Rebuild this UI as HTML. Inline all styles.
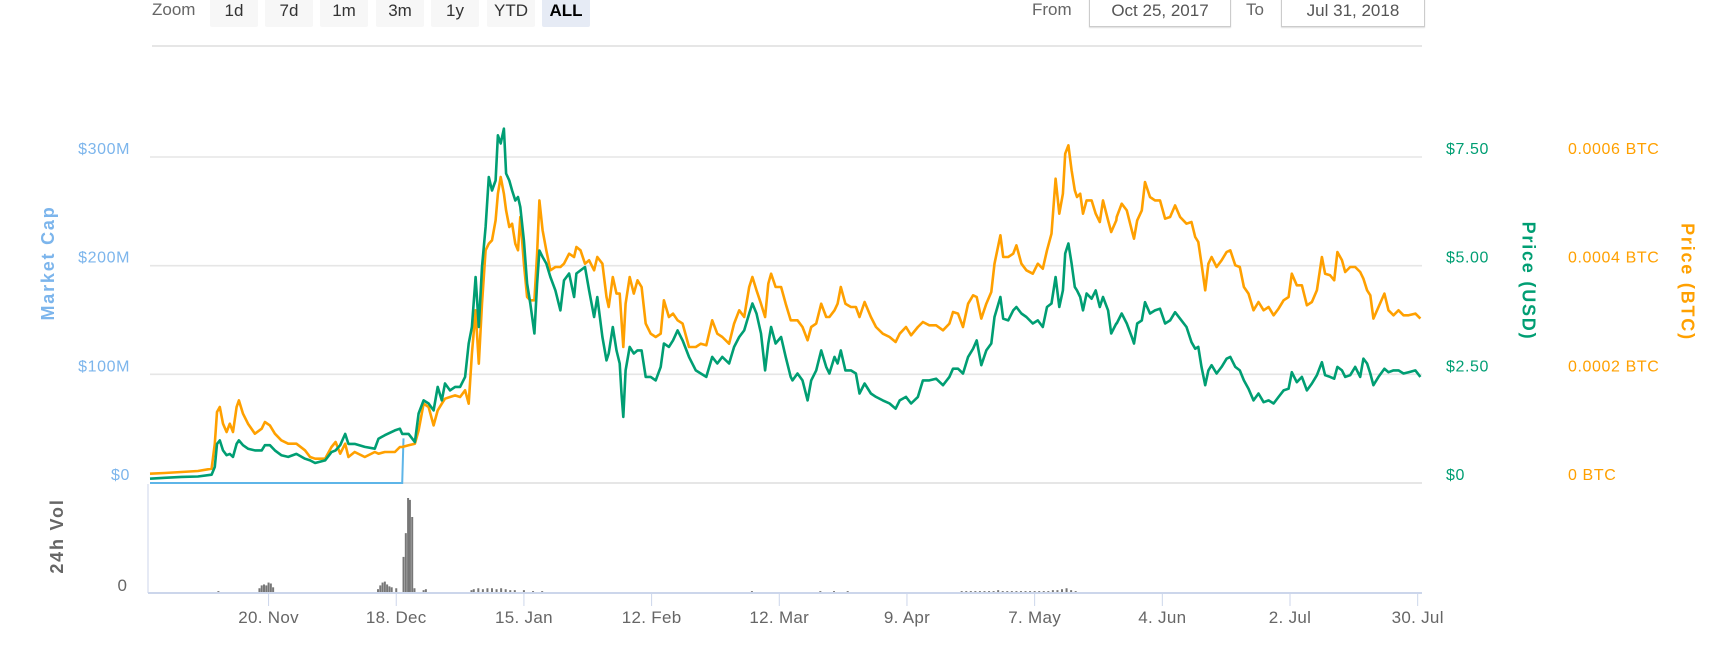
<!DOCTYPE html>
<html><head><meta charset="utf-8">
<style>
html,body{margin:0;padding:0;background:#fff;}
body{width:1713px;height:666px;position:relative;overflow:hidden;font-family:"Liberation Sans",sans-serif;}
.btn{position:absolute;top:-4px;height:31px;width:48px;background:#f7f7f7;border-radius:2px;color:#333;font-size:17px;text-align:center;line-height:30px;}
.btn.sel{background:#e6ebf5;font-weight:bold;color:#000;}
.lbl{position:absolute;color:#666;font-size:17px;}
.dbox{position:absolute;top:-4px;height:30px;border:1px solid #ccc;border-top:none;background:#fff;color:#555;font-size:17px;line-height:30px;text-align:center;box-shadow:0 1px 1px #ddd;}
svg{position:absolute;left:0;top:0;}
</style></head>
<body>
<div class="lbl" style="left:152px;top:0px;">Zoom</div>
<div class="btn" style="left:210px;">1d</div>
<div class="btn" style="left:265px;">7d</div>
<div class="btn" style="left:320px;">1m</div>
<div class="btn" style="left:376px;">3m</div>
<div class="btn" style="left:431px;">1y</div>
<div class="btn" style="left:487px;">YTD</div>
<div class="btn sel" style="left:542px;">ALL</div>
<div class="lbl" style="left:1032px;top:0px;">From</div>
<div class="dbox" style="left:1089px;width:140px;">Oct 25, 2017</div>
<div class="lbl" style="left:1246px;top:0px;">To</div>
<div class="dbox" style="left:1281px;width:142px;">Jul 31, 2018</div>

<svg id="chart" width="1713" height="666" xmlns="http://www.w3.org/2000/svg"></svg>

<script>
// ---- data ----
const usdDays=[0,3.2,6.9,10.5,13.5,14.2,14.7,15.3,16,16.8,17.5,18.2,19,19.5,20.4,21.5,23,24.5,25.2,26.3,27.4,28.8,30.3,32.1,34,35.1,36.2,38.4,39.8,40.7,41.7,42.8,43.5,44.9,47.1,49.3,50.1,51.5,53.7,54.8,55.3,56.7,58.1,58.9,60,61.1,62.2,63.1,64,64.7,65.8,66.9,68,69.1,
69.9,70.6,71.4,72.1,72.8,73.6,74.3,75,75.8,76.3,76.9,77.6,78.1,78.8,79.4,80.1,80.7,81.2,82,82.7,83.4,84.3,84.9,85.4,86.1,86.9,87.8,88.9,90,90.8,91.9,93,93.5,94.4,95.4,96.3,97.4,98.1,99.2,100.1,100.6,101.5,102.3,103,103.4,103.8,104.3,105.2,106.1,106.9,107.8,108.7,109.8,110.9,112,112.7,113.8,114.7,115.7,116.8,118.2,119.7,120.8,122,123.3,124.4,125.5,127,128.1,129.2,130.3,131.4,132.1,133,134,134.9,135.6,136.2,137.2,138.4,139.4,140.5,
140.9,142,143.1,144.2,145,146.1,147.2,148.3,149,150.1,150.8,151.5,152.5,153.7,154.8,155.6,156.7,158.1,159.2,160.7,162.2,163.5,164.4,165.8,166.9,168.4,169.5,170.9,172.4,173.9,175.3,176.1,177.2,178.3,179.4,180.5,181.3,182.3,183.4,184.5,185.2,186.5,187.1,188.2,189.3,190,191.1,192.2,193.6,194.7,195.8,196.7,197.7,198.6,199.4,200.2,200.7,201.4,202.1,202.8,203.3,204,204.6,205.4,206.5,207.4,208.3,209,210.1,210.8,211.9,
212,213.1,214.2,215.3,215.8,216.5,217.5,218.2,219.3,220.4,221.5,222.6,223.7,224.8,225.9,227.3,228.4,229.2,229.9,230.6,231.4,232.1,232.8,233.9,235,236.1,236.9,238,239,239.9,240.9,242,243.1,244.2,245.3,246.4,247.5,248.6,249.7,250.4,251.5,252.6,253.7,254.8,255.9,257,257.7,258.8,259.7,260.4,261.4,262.1,263.2,264.3,265.4,266.1,266.9,267.6,268.3,269.4,270.7,271.6,272.7,273.8,274.9,276,277.5,278.6];
const priceUSD=[0.10,0.12,0.14,0.15,0.19,0.37,0.90,0.98,0.75,0.64,0.67,0.60,0.90,0.98,0.87,0.79,0.75,0.75,0.87,0.87,0.75,0.64,0.60,0.67,0.56,0.52,0.46,0.52,0.71,0.75,0.87,1.13,0.90,0.90,0.83,0.79,1.02,1.10,1.21,1.25,1.13,1.13,0.94,1.60,1.90,1.83,1.67,2.21,1.90,2.29,2.13,2.21,2.21,2.44,
3.21,3.59,4.74,3.59,4.97,5.89,7.04,6.73,6.96,8.00,7.81,8.15,7.12,6.96,6.73,6.50,6.58,6.35,5.58,4.59,4.13,3.44,4.59,5.35,5.20,5.05,4.74,4.43,3.97,4.66,4.82,4.28,4.82,4.89,4.97,4.43,3.82,4.28,3.36,2.82,2.98,3.59,3.05,2.75,2.06,1.52,2.59,3.13,2.98,3.05,3.05,2.44,2.44,2.36,2.67,3.21,3.13,3.28,3.51,3.28,2.90,2.59,2.52,2.44,2.90,2.75,2.90,2.75,3.13,3.36,3.51,3.90,4.13,3.90,3.44,2.59,3.21,3.59,3.21,3.36,2.90,2.44,
2.36,2.52,2.36,1.90,2.36,2.59,3.05,2.67,2.52,2.90,2.75,3.05,2.59,2.59,2.52,2.06,2.29,2.06,1.98,1.90,1.83,1.71,1.90,1.98,1.83,1.98,2.36,2.36,2.40,2.25,2.44,2.63,2.63,2.52,2.90,3.09,3.28,2.71,3.05,3.21,3.82,4.28,3.78,3.74,3.97,4.05,3.90,3.82,3.67,3.74,3.59,4.05,4.13,4.74,4.05,4.43,5.28,5.51,5.05,4.51,4.43,4.28,3.97,4.36,4.24,4.43,4.05,4.28,3.97,3.44,3.67,
3.67,3.90,3.67,3.36,3.21,3.67,3.74,4.16,3.90,3.97,4.01,3.67,3.74,3.93,3.78,3.59,3.24,3.09,3.13,2.67,2.25,2.59,2.71,2.52,2.67,2.86,2.90,2.67,2.59,2.36,2.17,1.90,2.06,1.86,1.90,1.83,1.98,2.13,2.17,2.55,2.32,2.44,2.13,2.29,2.48,2.78,2.48,2.44,2.40,2.67,2.59,2.44,2.48,2.67,2.44,2.86,2.75,2.52,2.25,2.44,2.63,2.55,2.59,2.59,2.52,2.55,2.59,2.44];
// BTC price in micro-BTC (1e-6 BTC)
const priceMicroBTC=[17.2,18.4,20.2,22.1,26.4,72.4,130.7,139.9,109.2,93.9,109.2,93.9,139.9,152.1,127.6,109.2,90.8,100,112.3,106.1,90.8,78.5,72.4,72.4,60.1,47.9,44.8,44.8,66.3,75.5,54,72.4,47.9,57.1,47.9,57.1,54,57.1,57.1,66.3,66.3,69.3,72.4,96.9,146,139.9,106.1,133.7,146,155.2,158.3,161.3,158.3,170.6,
146,238,317.8,219.6,330,428.2,440.5,446.6,483.4,532.5,563.2,532.5,501.8,471.2,477.3,440.5,428.2,489.6,403.7,342.3,336.2,336.2,422.1,520.2,465,428.2,391.4,397.5,397.5,403.7,422.1,416,434.4,428.2,403.7,409.8,391.4,416,403.7,342.3,323.9,379.1,348.5,348.5,299.4,250.3,330,379.1,348.5,373,360.7,293.3,274.8,268.7,274.8,336.2,305.5,311.7,299.4,293.3,250.3,250.3,256.4,253.4,299.4,274.8,268.7,256.4,293.3,317.8,305.5,360.7,379.1,354.6,330,305.5,366.8,385.3,360.7,360.7,330,299.4,
299.4,299.4,287.1,262.6,287.1,293.3,330,305.5,305.5,317.8,330,360.7,330,323.9,323.9,305.5,333.1,305.5,287.1,274.8,268.7,259.5,274.8,287.1,271.8,287.1,296.3,290.2,290.2,281,293.3,314.7,311.7,287.1,330,345.4,342.3,302.5,330,351.5,403.7,455.8,416,416,422.1,437.4,403.7,391.4,385.3,403.7,394.5,428.2,458.9,560.1,495.7,532.5,606.1,621.5,575.5,538.7,526.4,532.5,495.7,520.2,520.2,495.7,480.4,520.2,483.4,462,483.4,
489.6,514.1,501.8,465,449.7,483.4,501.8,554,526.4,520.2,520.2,486.5,489.6,511,489.6,477.3,480.4,452.8,443.6,403.7,354.6,403.7,416,397.5,409.8,425.2,428.2,400.6,397.5,360.7,348.5,317.8,333.1,317.8,323.9,308.6,320.9,336.2,342.3,385.3,363.8,363.8,327,333.1,354.6,416,385.3,382.2,373,425.2,409.8,388.3,397.5,397.5,388.3,376.1,354.6,345.4,302.5,323.9,348.5,317.8,308.6,317.8,308.6,308.6,311.7,302.5];
const mcapDays=[0,55.3,55.6];
const marketCapM=[0,0,41];
const volDays=[15,24,24.5,25,25.5,26,26.5,27,50,50.5,51,51.5,52,52.5,53,54,55.6,56.1,56.6,57,57.5,58,60,60.5,70.5,71,72,73,74,75,76,77,78,79,80,82,84,86,132,147,150,153,
177,178,179,180,181,182,183,184,185,186,187,188,189,190,191,192,193,194,195,196,197,198,199,200,201,202,203];
const volume=[2,5,8,9,8,11,10,6,4,8,11,12,9,7,6,5,38,63,100,98,80,5,3,4,3,4,5,4,5,5,4,5,4,3,3,3,2,2,2,2,2,2,
1,2,2,2,2,2,2,2,2,3,2,2,2,2,2,2,2,2,2,2,2,3,3,4,5,3,2];
const xTickDays=[26,54,82,110,138,166,194,222,250,278];
const xTickLabels=["20. Nov","18. Dec","15. Jan","12. Feb","12. Mar","9. Apr","7. May","4. Jun","2. Jul","30. Jul"];
const mcapTicks=[0,100,200,300];
const mcapTickLabels=["$0","$100M","$200M","$300M"];
const usdTicks=[0,2.5,5,7.5];
const usdTickLabels=["$0","$2.50","$5.00","$7.50"];
const btcTicks=[0,200,400,600];
const btcTickLabels=["0 BTC","0.0002 BTC","0.0004 BTC","0.0006 BTC"];

// ---- scales ----
const X0=150, DX=4.56, PL=150, PR=1422;
const Y0=483, YTOP=157;
const xs=d=>X0+d*DX;
const yUSD=v=>Y0-(Y0-YTOP)*v/7.5;
const yBTC=v=>Y0-(Y0-YTOP)*v/600;
const yMC=v=>Y0-(Y0-YTOP)*v/300;
const VB=593;
const yVol=v=>VB-v*0.95;

const NS="http://www.w3.org/2000/svg";
const svg=document.getElementById('chart');
function mk(tag,attrs,parent){const e=document.createElementNS(NS,tag);for(const k in attrs)e.setAttribute(k,attrs[k]);(parent||svg).appendChild(e);return e;}

let e=mk('line',{x1:152,x2:1422,y1:46,y2:46,stroke:'#e6e6e6','stroke-width':2});



mcapTicks.forEach((t,i)=>{
  const y=yMC(t);
  const g=mk('line',{x1:PL,x2:PR,y1:y,y2:y,stroke:'#e6e6e6','stroke-width':i===0?2:1.6});
  
  
  const l=mk('text',{x:130,y:y-3,'text-anchor':'end',fill:'#7cb5ec','font-size':16,'letter-spacing':0.6});
  l.textContent=mcapTickLabels[i];
  
  
});
usdTicks.forEach((t,i)=>{
  const l=mk('text',{x:1446,y:yUSD(t)-3,fill:'#009e73','font-size':16,'letter-spacing':0.6});
  l.textContent=usdTickLabels[i];
  
  
});
btcTicks.forEach((t,i)=>{
  const l=mk('text',{x:1568,y:yBTC(t)-3,fill:'#ffa000','font-size':16,'letter-spacing':0.6});
  l.textContent=btcTickLabels[i];
  
  
});

function title(txt,x,y,rot,color,name,size,ls){
  const t=mk('text',{x:x,y:y,'text-anchor':'middle','dominant-baseline':'middle',fill:color,'font-size':size,'font-weight':'bold','letter-spacing':ls,transform:`rotate(${rot} ${x} ${y})`});
  t.textContent=txt;
  
  
}
title('Market Cap',49,263,-90,'#7cb5ec','market-cap-axis-title',18,1.8);
title('Price (USD)',1527,281,90,'#009e73','usd-axis-title',18,1.8);
title('Price (BTC)',1686,282,90,'#ffa000','btc-axis-title',18,1.8);
title('24h Vol',58,536,-90,'#666','volume-axis-title',18,1.8);

function path(days,vals,ys){return days.map((d,i)=>(i?'L':'M')+xs(d).toFixed(1)+' '+ys(vals[i]).toFixed(1)).join(' ');}
e=mk('path',{d:path(mcapDays,marketCapM,yMC),fill:'none',stroke:'#5eb5e8','stroke-width':2});


e=mk('path',{d:path(usdDays,priceMicroBTC,yBTC),fill:'none',stroke:'#ffa000','stroke-width':2.6,'stroke-linejoin':'round'});


e=mk('path',{d:path(usdDays,priceUSD,yUSD),fill:'none',stroke:'#009e73','stroke-width':2.6,'stroke-linejoin':'round'});



e=mk('line',{x1:148,x2:148,y1:484,y2:VB,stroke:'#ccd6eb','stroke-width':1});


volDays.forEach((d,i)=>{
  const y=yVol(volume[i]);
  const b=mk('rect',{x:xs(d)-1,y:y,width:2,height:VB-y,fill:'#777'});
  
  
});
e=mk('line',{x1:148,x2:PR,y1:VB,y2:VB,stroke:'#ccd6eb','stroke-width':2});


e=mk('text',{x:127,y:591,'text-anchor':'end',fill:'#666','font-size':17});
e.textContent='0';



xTickDays.forEach((d,i)=>{
  const x=xs(d);
  const t=mk('line',{x1:x,x2:x,y1:VB,y2:VB+13,stroke:'#ccd6eb','stroke-width':1});
  
  
  const l=mk('text',{x:x,y:623,'text-anchor':'middle',fill:'#666','font-size':17,'letter-spacing':0.3});
  l.textContent=xTickLabels[i];
  
  
});
</script>
</body></html>
